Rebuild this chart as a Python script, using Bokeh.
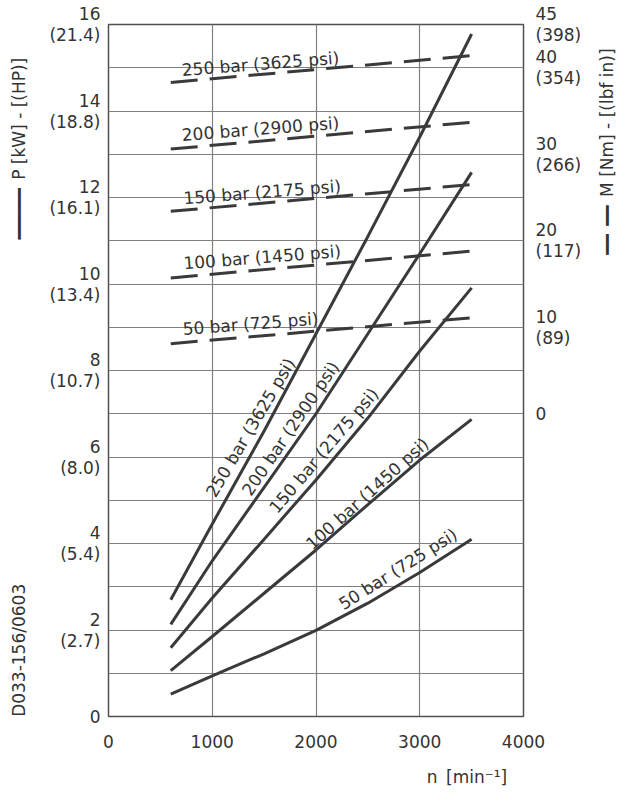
import math
from bokeh.plotting import figure
from bokeh.models import Range1d, LinearAxis, FixedTicker, ColumnDataSource
from bokeh.core.properties import value
from bokeh.embed import file_html
from bokeh.resources import INLINE

# ---------------- data ----------------
rpm = [600, 1000, 1500, 2000, 2500, 3000, 3500]
power_250 = [2.70, 4.45, 6.60, 8.85, 11.10, 13.40, 15.78]
power_200 = [2.13, 3.60, 5.30, 7.00, 8.85, 10.70, 12.58]
power_150 = [1.59, 2.74, 4.10, 5.47, 6.90, 8.45, 9.91]
power_100 = [1.06, 1.85, 2.85, 3.85, 4.90, 5.93, 6.87]
power_50 = [0.52, 0.94, 1.45, 1.99, 2.62, 3.33, 4.10]

torque_rpm = [600, 3500]
torque_250 = [38.3, 41.4]
torque_200 = [30.6, 33.7]
torque_150 = [23.4, 26.5]
torque_100 = [15.7, 18.8]
torque_50 = [8.1, 11.1]

pressure_labels = ["250 bar (3625 psi)", "200 bar (2900 psi)", "150 bar (2175 psi)",
                   "100 bar (1450 psi)", "50 bar (725 psi)"]

x_ticks = [0, 1000, 2000, 3000, 4000]
kw_ticks = [0, 2, 4, 6, 8, 10, 12, 14, 16]
kw_tick_labels = ["0", "2\n(2.7)", "4\n(5.4)", "6\n(8.0)", "8\n(10.7)", "10\n(13.4)",
                  "12\n(16.1)", "14\n(18.8)", "16\n(21.4)"]
nm_ticks = [0, 10, 20, 30, 40, 45]
nm_tick_labels = ["0", "10\n(89)", "20\n(117)", "30\n(266)", "40\n(354)", "45\n(398)"]

power_title = "\u2501\u2501\u2501\u2501\u2501\u2002P [kW] - [(HP)]"
torque_title = "\u2501\u2501\u2002\u2501\u2501\u2002M [Nm] - [(lbf in)]"
speed_title = "n\u2002[min\u207b\u00b9]"
drawing_no = "D033-156/0603"

# ---------------- style ----------------
FONT = "DejaVu Sans"
FS = "17px"
TXT = "#333333"
INK = "#3a3a3a"
GRID = "#808080"

p = figure(width=630, height=790, output_backend="svg", toolbar_location=None,
           x_range=Range1d(0, 4000), y_range=Range1d(0, 16),
           min_border_left=108, min_border_right=107, min_border_top=24, min_border_bottom=74)
p.extra_y_ranges = {"nm": Range1d(-35, 45)}
p.background_fill_color = "white"
p.border_fill_color = "white"
p.outline_line_color = "#505050"
p.outline_line_width = 1.5

# grid
p.xgrid.ticker = FixedTicker(ticks=[1000, 2000, 3000])
p.ygrid.ticker = FixedTicker(ticks=list(range(0, 17)))
for g in (p.xgrid, p.ygrid):
    g.grid_line_color = GRID
    g.grid_line_width = 1.2

def style_axis(ax, standoff):
    ax.axis_line_color = None
    ax.major_tick_line_color = None
    ax.minor_tick_line_color = None
    ax.major_tick_out = 0
    ax.major_tick_in = 0
    ax.minor_tick_out = 0
    ax.minor_tick_in = 0
    ax.major_label_text_font = FONT
    ax.major_label_text_font_size = FS
    ax.major_label_text_color = TXT
    ax.major_label_text_line_height = 1.05
    ax.major_label_standoff = standoff

p.xaxis.ticker = FixedTicker(ticks=x_ticks)
style_axis(p.xaxis[0], 18)
p.yaxis.ticker = FixedTicker(ticks=kw_ticks)
p.yaxis.major_label_overrides = {t: s for t, s in zip(kw_ticks, kw_tick_labels)}
style_axis(p.yaxis[0], 8)

r_axis = LinearAxis(y_range_name="nm", ticker=FixedTicker(ticks=nm_ticks),
                    major_label_overrides={t: s for t, s in zip(nm_ticks, nm_tick_labels)})
style_axis(r_axis, 12)
p.add_layout(r_axis, "right")

# outer "note" axes carrying the axis titles and drawing number
left_note_pos = [13.13, 1.53]
left_notes = LinearAxis(ticker=FixedTicker(ticks=left_note_pos),
                        major_label_overrides={left_note_pos[0]: power_title,
                                               left_note_pos[1]: drawing_no},
                        major_label_orientation="vertical")
style_axis(left_notes, 17)
p.add_layout(left_notes, "left")

right_note_pos = [12.89]
right_notes = LinearAxis(ticker=FixedTicker(ticks=right_note_pos),
                         major_label_overrides={right_note_pos[0]: torque_title},
                         major_label_orientation=math.pi / 2)
style_axis(right_notes, 23)
p.add_layout(right_notes, "right")

bottom_note_pos = [3455]
bottom_notes = LinearAxis(ticker=FixedTicker(ticks=bottom_note_pos),
                          major_label_overrides={bottom_note_pos[0]: speed_title})
style_axis(bottom_notes, 16)
p.add_layout(bottom_notes, "below")

# power curves (solid)
power = [power_250, power_200, power_150, power_100, power_50]
for pw in power:
    p.line(rpm, pw, line_color=INK, line_width=3)

# torque lines (dashed)
torque = [torque_250, torque_200, torque_150, torque_100, torque_50]
for tq in torque:
    p.line(torque_rpm, tq, y_range_name="nm", line_color=INK, line_width=3,
           line_dash="27 12")

# labels along power curves
pl_src = ColumnDataSource(dict(
    x=[1369, 1754, 2075, 2494, 2790],
    y=[6.68, 6.66, 6.15, 5.15, 3.41],
    text=pressure_labels,
    angle=[math.radians(a) for a in (59.4, 55.7, 49.6, 41.8, 32.3)],
))
p.text("x", "y", text="text", angle="angle", source=pl_src, text_align="center",
       text_baseline="middle", text_font=value(FONT), text_font_size=FS, text_color=TXT)

# labels above torque lines
tl_src = ColumnDataSource(dict(
    x=[1465, 1465, 1481, 1481, 1369],
    y=[40.45, 32.94, 25.62, 18.1, 10.4],
    text=pressure_labels,
))
p.text("x", "y", text="text", source=tl_src, y_range_name="nm", angle=math.radians(4.5),
       text_align="center", text_baseline="middle", text_font=value(FONT),
       text_font_size=FS, text_color=TXT)

open("out.html", "w").write(file_html(p, INLINE))
